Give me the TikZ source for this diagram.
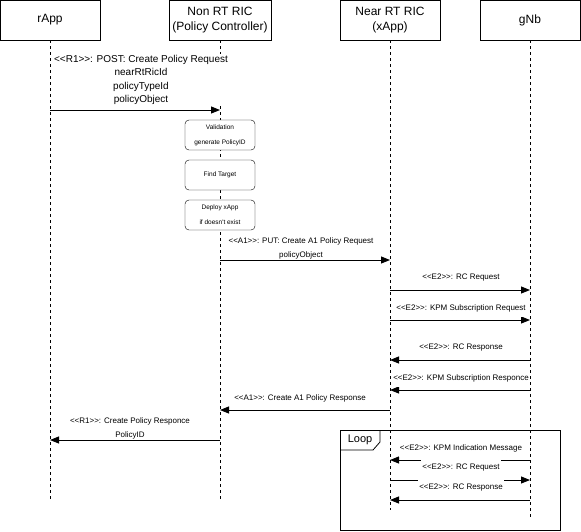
\documentclass[tikz,border=0pt]{standalone}
\usepackage{fontspec}
\newfontfamily\diagramfont{Liberation Sans}
\usetikzlibrary{arrows.meta,positioning}

\begin{document}
\begin{tikzpicture}[
    x=1pt, y=-1pt,
    every node/.style={font=\diagramfont},
    actor/.style={rectangle, draw=black, minimum width=100pt, minimum height=40pt, align=center, font=\diagramfont\fontsize{12}{15}\selectfont},
    lifeline/.style={line width=0.8pt, dash pattern=on 3pt off 3pt},
    stepbox/.style={rectangle, rounded corners=4pt, draw=black, fill=white, minimum width=70pt, minimum height=30pt, align=center, font=\diagramfont\fontsize{6.5}{15}\selectfont},
    msg/.style={line width=0.9pt, -{Triangle[length=9pt,width=7pt]}},
    biglabel/.style={fill=white, inner sep=1pt, align=center, font=\diagramfont\fontsize{10}{13.4}\selectfont},
    msglabel/.style={fill=white, inner xsep=1pt, inner ysep=0pt, minimum height=17pt, yshift=-2pt, align=center, font=\diagramfont\fontsize{8}{14}\selectfont}
]
\useasboundingbox (0,0) rectangle (581,531);

% Participants
\node[actor] (rapp) at (50,20) {rApp};
\node[actor] (nonrt) at (220,20) {Non RT RIC\\(Policy Controller)};
\node[actor] (nearrt) at (390,20) {Near RT RIC\\(xApp)};
\node[actor] (gnb) at (530,20) {gNb};

% Lifelines
\coordinate (rappend) at (50,500);
\coordinate (nonrtend) at (220,500);
\coordinate (nearrtend) at (390,510);
\coordinate (gnbend) at (530,518);
\draw[lifeline] (rapp) -- (rappend);
\draw[lifeline] (nonrt) -- (nonrtend);
\draw[lifeline] (nearrt) -- (nearrtend);
\draw[lifeline] (gnb) -- (gnbend);

% Message heights
\coordinate (m1) at (0,110);
\coordinate (m2) at (0,260);
\coordinate (m3) at (0,290);
\coordinate (m4) at (0,320);
\coordinate (m5) at (0,360);
\coordinate (m6) at (0,390);
\coordinate (m7) at (0,410);
\coordinate (m8) at (0,440);
\coordinate (m9) at (0,460);
\coordinate (m10) at (0,480);
\coordinate (m11) at (0,500);

% R1 request
\draw[msg] (rapp |- m1) -- (nonrt |- m1);
\node[biglabel] (postlbl) at (141,80) {<<R1>>: POST: Create Policy Request\\nearRtRicId\\policyTypeId\\policyObject};

% Policy controller steps
\node[stepbox] (validate) at (220,135) {Validation\\generate PolicyID};
\node[stepbox] (findtgt) at (220,175) {Find Target};
\node[stepbox] (deploy) at (220,215) {Deploy xApp\\if doesn't exist};

% A1 request
\draw[msg] (nonrt |- m2) -- (nearrt |- m2);
\node[msglabel] (putlbl) at (301,246) {<<A1>>: PUT: Create A1 Policy Request\\policyObject};

% E2 exchange
\draw[msg] (nearrt |- m3) -- (gnb |- m3);
\node[msglabel] (rcreqlbl) at (461,276) {<<E2>>: RC Request};
\draw[msg] (nearrt |- m4) -- (gnb |- m4);
\node[msglabel] (kpmreqlbl) at (461,306) {<<E2>>: KPM Subscription Request};
\draw[msg] (gnb |- m5) -- (nearrt |- m5);
\node[msglabel] (rcreslbl) at (461,346) {<<E2>>: RC Response};
\draw[msg] (gnb |- m6) -- (nearrt |- m6);
\node[msglabel] (kpmreslbl) at (461,376) {<<E2>>: KPM Subscription Responce};

% Responses back
\draw[msg] (nearrt |- m7) -- (nonrt |- m7);
\node[msglabel] (a1reslbl) at (300,396) {<<A1>>: Create A1 Policy Response};
\draw[msg] (nonrt |- m8) -- (rapp |- m8);
\node[msglabel] (r1reslbl) at (130,426) {<<R1>>: Create Policy Responce\\PolicyID};

% Loop frame
\draw[line width=0.8pt] (340,430) rectangle (560,530);
\draw[line width=0.8pt] (340,450) -- (373,450) -- (380,442) -- (380,430);
\node[font=\diagramfont\fontsize{11}{13}\selectfont] (looplbl) at (360,440) {Loop};

% Loop messages
\draw[msg] (gnb |- m9) -- (nearrt |- m9);
\node[msglabel] (kpmindlbl) at (461,446) {<<E2>>: KPM Indication Message};
\draw[msg] (nearrt |- m10) -- (gnb |- m10);
\node[msglabel] (rcreq2lbl) at (461,466) {<<E2>>: RC Request};
\draw[msg] (gnb |- m11) -- (nearrt |- m11);
\node[msglabel] (rcres2lbl) at (461,486) {<<E2>>: RC Response};

\end{tikzpicture}
\end{document}
